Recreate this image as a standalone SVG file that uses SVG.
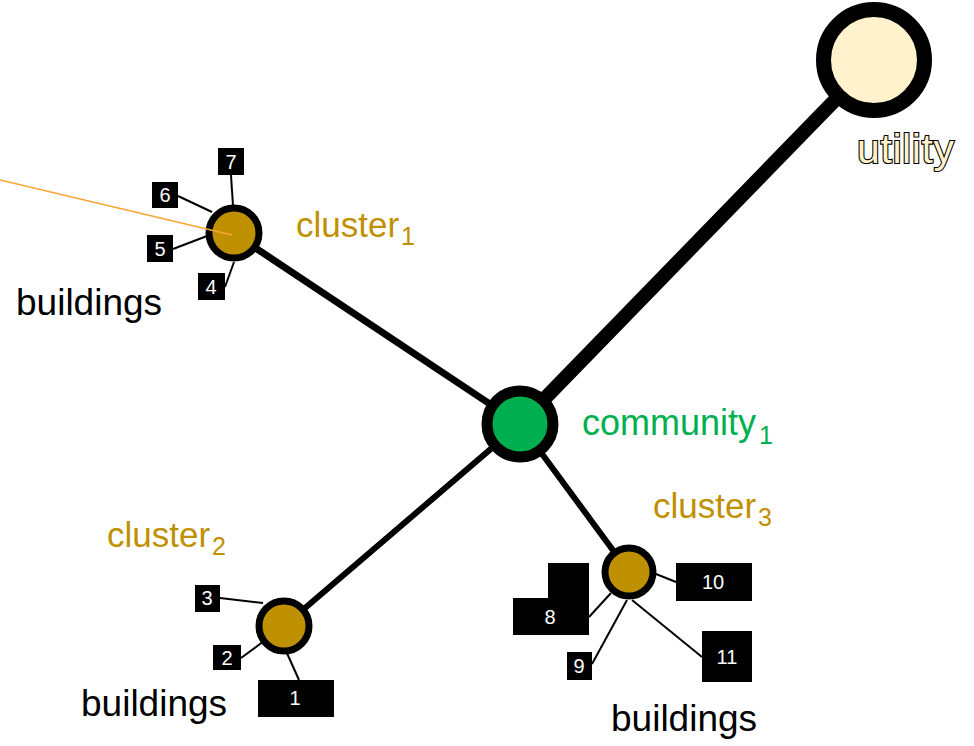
<svg xmlns="http://www.w3.org/2000/svg" width="974" height="746" viewBox="0 0 974 746">
  <style>
    .lbl { font-family: "Liberation Sans", Arial, sans-serif; }
    .trunk { stroke: #000; stroke-linecap: round; fill: none; }
    .drop { stroke: #000; stroke-width: 2; fill: none; }
    .bldg { fill: #000; }
    .num { font-family: "Liberation Sans", Arial, sans-serif; font-size: 20px; fill: #fff; text-anchor: middle; }
    .cluster { fill: #BF9000; stroke: #000; stroke-width: 7; }
    .ctext { font-family: "Liberation Sans", Arial, sans-serif; font-size: 35px; fill: #BF9000; }
    .btext { font-family: "Liberation Sans", Arial, sans-serif; font-size: 37px; fill: #000; }
    .sub { font-size: 25px; }
  </style>

  <!-- feeder lines and service drops -->
  <g id="connectors">
    <line class="trunk" x1="874" y1="60" x2="520" y2="424" stroke-width="14"/>
    <line class="trunk" x1="233" y1="233" x2="520" y2="424" stroke-width="7"/>
    <line class="trunk" x1="284" y1="626" x2="520" y2="424" stroke-width="6"/>
    <line class="trunk" x1="629" y1="572" x2="520" y2="424" stroke-width="6"/>
    <!-- cluster 1 drops -->
    <line class="drop" x1="231" y1="175" x2="233" y2="206"/>
    <line class="drop" x1="178" y1="196" x2="212" y2="212"/>
    <line class="drop" x1="173" y1="249" x2="207" y2="236"/>
    <line class="drop" x1="225" y1="287" x2="234" y2="262"/>
    <!-- cluster 2 drops -->
    <line class="drop" x1="220" y1="598" x2="263" y2="603"/>
    <line class="drop" x1="241" y1="658" x2="264" y2="641"/>
    <line class="drop" x1="286" y1="651" x2="299" y2="680"/>
    <!-- cluster 3 drops -->
    <line class="drop" x1="589" y1="617" x2="611" y2="593"/>
    <line class="drop" x1="656" y1="574" x2="676" y2="582"/>
    <line class="drop" x1="592" y1="664" x2="627" y2="600"/>
    <line class="drop" x1="632" y1="600" x2="702" y2="657"/>
  </g>

  <g id="utility">
    <circle cx="874" cy="60" r="50.5" fill="#FFF2CC" stroke="#000" stroke-width="15"/>
    <text x="857" y="163" class="lbl" font-size="41" textLength="97" fill="#FFF2CC" stroke="#000" stroke-width="2.2" paint-order="stroke">utility</text>
  </g>

  <g id="community1">
    <circle cx="520" cy="424" r="33" fill="#00B050" stroke="#000" stroke-width="11"/>
    <text x="582" y="435" class="lbl" font-size="36" fill="#00B050">community<tspan class="sub" dx="3" dy="9">1</tspan></text>
  </g>

  <g id="cluster1">
    <circle class="cluster" cx="234" cy="233" r="25"/>
    <text x="296" y="237" class="ctext">cluster<tspan class="sub" dx="2" dy="8">1</tspan></text>
  </g>

  <g id="cluster2">
    <circle class="cluster" cx="284" cy="626" r="25"/>
    <text x="107" y="547" class="ctext">cluster<tspan class="sub" dx="2" dy="8">2</tspan></text>
  </g>

  <g id="cluster3">
    <circle class="cluster" cx="629" cy="572" r="24"/>
    <text x="653" y="518" class="ctext">cluster<tspan class="sub" dx="2" dy="8">3</tspan></text>
  </g>

  <!-- buildings served by cluster 1 -->
  <g id="buildings1">
    <rect class="bldg" x="218" y="148" width="26" height="27"/>
    <text class="num" x="231" y="169">7</text>
    <rect class="bldg" x="152" y="182" width="26" height="26"/>
    <text class="num" x="165" y="202">6</text>
    <rect class="bldg" x="147" y="235" width="26" height="27"/>
    <text class="num" x="160" y="256">5</text>
    <rect class="bldg" x="198" y="273" width="27" height="27"/>
    <text class="num" x="211" y="294">4</text>
    <text x="16" y="315" class="btext">buildings</text>
  </g>

  <!-- buildings served by cluster 2 -->
  <g id="buildings2">
    <rect class="bldg" x="195" y="585" width="25" height="27"/>
    <text class="num" x="207" y="605">3</text>
    <rect class="bldg" x="213" y="645" width="28" height="25"/>
    <text class="num" x="227" y="665">2</text>
    <rect class="bldg" x="258" y="680" width="76" height="37"/>
    <text class="num" x="295" y="705">1</text>
    <text x="81" y="716" class="btext">buildings</text>
  </g>

  <!-- buildings served by cluster 3 -->
  <g id="buildings3">
    <path class="bldg" d="M548 563 H589 V635 H513 V598 H548 Z"/>
    <text class="num" x="550" y="624">8</text>
    <rect class="bldg" x="676" y="563" width="76" height="38"/>
    <text class="num" x="713" y="589">10</text>
    <rect class="bldg" x="567" y="652" width="25" height="28"/>
    <text class="num" x="579" y="673">9</text>
    <rect class="bldg" x="702" y="631" width="50" height="51"/>
    <text class="num" x="727" y="664">11</text>
    <text x="611" y="731" class="btext">buildings</text>
  </g>

  <!-- pointer into cluster 1 -->
  <g id="pointer">
    <line x1="0" y1="180" x2="232" y2="235" stroke="#F9A534" stroke-width="1.6"/>
  </g>
</svg>
